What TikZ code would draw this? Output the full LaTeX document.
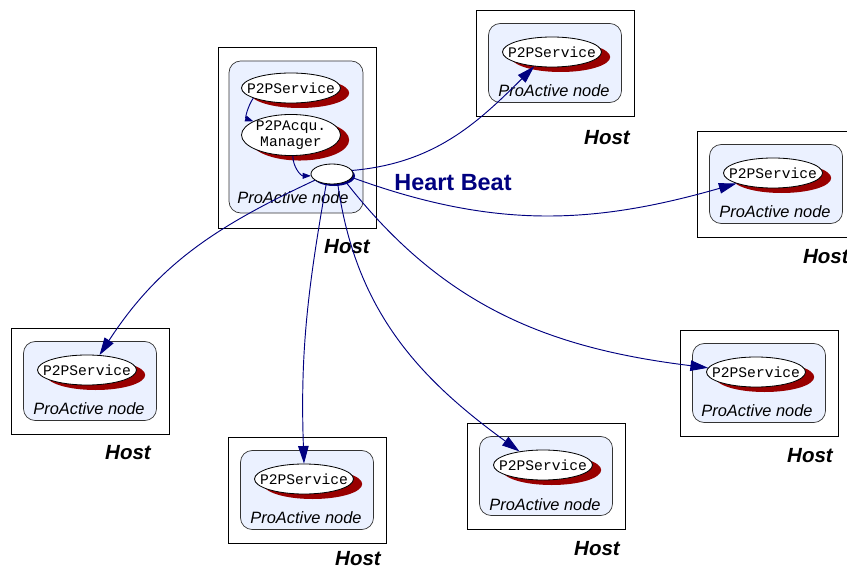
\documentclass[tikz,border=0pt]{standalone}
\usepackage{fontspec}
\setmainfont{Liberation Sans}
\setmonofont{Liberation Mono}
\usetikzlibrary{arrows.meta,shadows,shapes.geometric}

\definecolor{hbnavy}{RGB}{0,0,128}
\definecolor{shred}{RGB}{153,0,0}
\definecolor{pafill}{RGB}{235,241,255}

\begin{document}
\begin{tikzpicture}[
  x=0.03cm, y=0.03cm,
  >={Triangle[length=15pt,width=9pt]},
  hostbox/.style={draw, line width=0.75pt, minimum width=4.74cm, minimum height=3.18cm},
  pabox/.style={draw=black!80, fill=pafill, rounded corners=10pt, line width=0.6pt,
    minimum width=3.99cm, minimum height=2.37cm},
  svc/.style={ellipse, draw, fill=white, line width=0.7pt, inner sep=0pt,
    minimum width=2.97cm, minimum height=0.9cm, font=\fontsize{12.5}{13}\selectfont\ttfamily,
    drop shadow={shadow xshift=0.26cm, shadow yshift=-0.15cm, fill=shred, opacity=1}},
  hbout/.style={ellipse, draw, fill=white, line width=0.7pt, inner sep=0pt,
    minimum width=1.26cm, minimum height=0.6cm,
    drop shadow={shadow xshift=0.06cm, shadow yshift=-0.06cm, fill=hbnavy, opacity=1}},
  panode/.style={font=\fontsize{14}{16}\selectfont\itshape},
  hostlbl/.style={font=\fontsize{17.5}{20}\selectfont\bfseries\itshape},
  beat/.style={->, hbnavy, line width=0.8pt},
  inner/.style={-{Triangle[length=7pt,width=5pt]}, hbnavy, line width=0.8pt},
]
  \clip (0,0) rectangle (847,-569);

  % Central host
  \node[hostbox, minimum height=5.43cm] (h1) at (297,-137.5) {};
  \node[pabox, minimum width=4.02cm, minimum height=4.56cm] (pa1) at (296,-137) {};
  \node[svc] (ps) at (291,-88) {\makebox[0pt]{P2PService}};
  \node[svc, minimum height=1.08cm] (pa) at (291,-135)
    {\makebox[0pt]{\shortstack{P2PAcqu.\\Manager}}};
  \node[hbout] (sm) at (332,-174) {};
  \node[panode] (l1) at (293,-198) {ProActive node};
  \node[hostlbl] (t1) at (347,-247) {Host};

  \draw[inner] (ps.195) to[out=235, in=160] (pa.160);
  \draw[inner] (pa.-85) to[out=-90, in=180] (sm.185);

  % Peripheral hosts
  \node[hostbox] (h2) at (555,-63) {};
  \node[pabox] (pa2) at (555,-63) {};
  \node[svc] (s2) at (552,-52) {\makebox[0pt]{P2PService}};
  \node[panode] (l2) at (554,-91) {ProActive node};
  \node[hostlbl] (t2) at (607,-138) {Host};

  \node[hostbox] (h3) at (90,-381) {};
  \node[pabox] (pa3) at (90,-381) {};
  \node[svc] (s3) at (87,-370) {\makebox[0pt]{P2PService}};
  \node[panode] (l3) at (89,-409) {ProActive node};
  \node[hostlbl] (t3) at (128,-453) {Host};

  \node[hostbox] (h4) at (776,-184) {};
  \node[pabox] (pa4) at (776,-184) {};
  \node[svc] (s4) at (773,-173) {\makebox[0pt]{P2PService}};
  \node[panode] (l4) at (775,-212) {ProActive node};
  \node[hostlbl, anchor=west] (t4) at (799,-257) {Host};

  \node[hostbox] (h5) at (307,-490) {};
  \node[pabox] (pa5) at (307,-490) {};
  \node[svc] (s5) at (304,-479) {\makebox[0pt]{P2PService}};
  \node[panode] (l5) at (306,-518) {ProActive node};
  \node[hostlbl] (t5) at (358,-559) {Host};

  \node[hostbox] (h6) at (546,-476) {};
  \node[pabox] (pa6) at (546,-476) {};
  \node[svc] (s6) at (543,-465) {\makebox[0pt]{P2PService}};
  \node[panode] (l6) at (545,-505) {ProActive node};
  \node[hostlbl] (t6) at (597,-549) {Host};

  \node[hostbox] (h7) at (759,-383) {};
  \node[pabox] (pa7) at (759,-383) {};
  \node[svc] (s7) at (756,-372) {\makebox[0pt]{P2PService}};
  \node[panode] (l7) at (757,-411) {ProActive node};
  \node[hostlbl] (t7) at (810,-456) {Host};

  % Heart beat messages
  \draw[beat] (sm.10) to[out=5, in=225] (s2.-141);
  \draw[beat] (sm.-10) to[out=-20, in=196] (s4.196);
  \draw[beat] (sm.200) to[out=205, in=57] (s3.50);
  \draw[beat] (sm.-120) to[out=-100, in=92] (s5.north);
  \draw[beat] (sm.-60) to[out=-82, in=144] (s6.150);
  \draw[beat] (sm.-30) to[out=-52, in=173] (s7.175);

  \node[font=\fontsize{20}{22}\selectfont\bfseries, text=hbnavy] (hb) at (453,-183) {Heart Beat};
\end{tikzpicture}
\end{document}
